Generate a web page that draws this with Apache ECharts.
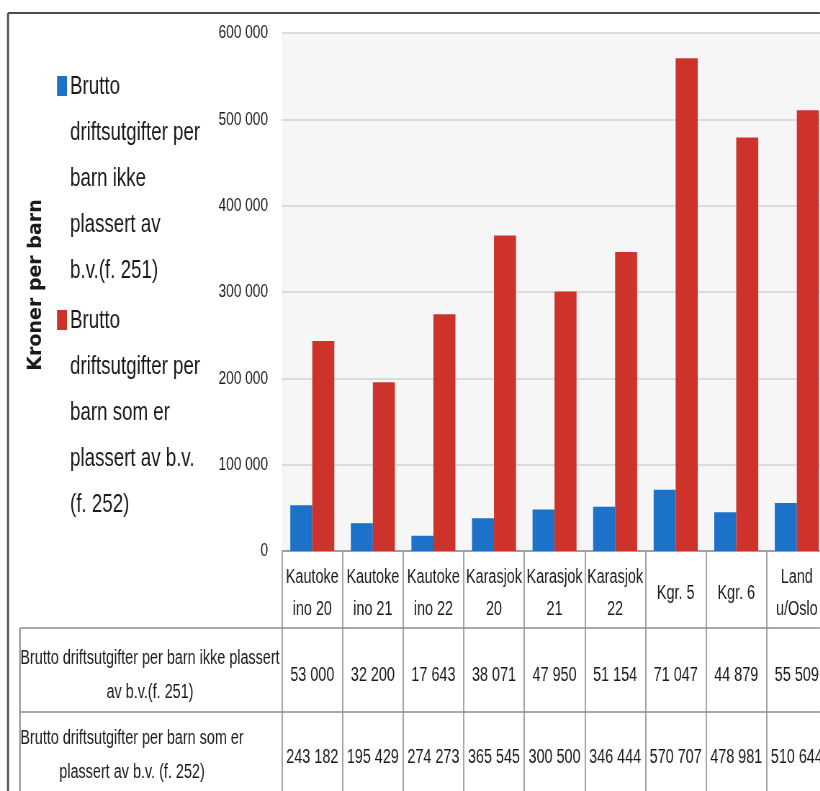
<!DOCTYPE html>
<html lang="no">
<head>
<meta charset="utf-8">
<title>Brutto driftsutgifter per barn</title>
<script src="https://cdn.jsdelivr.net/npm/echarts@6/dist/echarts.min.js"></script>
<style>
  html, body { margin: 0; padding: 0; background: #fff; overflow: hidden; }
  #wrap { width: 820px; height: 791px; overflow: hidden; }
  #chart { height: 791px; transform-origin: 0 0; }
</style>
</head>
<body>
<div id="wrap"><div id="chart"></div></div>
<script>
// kategorier (slik de er brutt i tabellen)
var categories = ['Kautoke\nino 20', 'Kautoke\nino 21', 'Kautoke\nino 22', 'Karasjok\n20', 'Karasjok\n21',
                  'Karasjok\n22', 'Kgr. 5', 'Kgr. 6', 'Land\nu/Oslo'];
// f. 251 og f. 252
var ikkePlassert = [53000, 32200, 17643, 38071, 47950, 51154, 71047, 44879, 55509];
var plassert = [243182, 195429, 274273, 365545, 300500, 346444, 570707, 478981, 510644];
var seriesNames = ['Brutto driftsutgifter per barn ikke plassert av b.v.(f. 251)',
                   'Brutto driftsutgifter per barn som er plassert av b.v. (f. 252)'];
var legendLines = [
    ['Brutto', 'driftsutgifter per', 'barn ikke', 'plassert av', 'b.v.(f. 251)'],
    ['Brutto', 'driftsutgifter per', 'barn som er', 'plassert av b.v.', '(f. 252)']
];
var rowHeaders = [
    ['Brutto driftsutgifter per barn ikke plassert', 'av b.v.(f. 251)'],
    ['Brutto driftsutgifter per barn som er', 'plassert av b.v. (f. 252)']
];
var yMin = 0, yMax = 600000, yStep = 100000;
var colors = ['#1b72c8', '#cd322b'];

// skannet figur er smal: tegner bredere og klemmer sammen horisontalt
var S = 0.72;
var W = 820 / S;
function X(v) { return v / S; }

var el = document.getElementById('chart');
el.style.width = W + 'px';
el.style.transform = 'scaleX(' + S + ')';

var sans = "'Liberation Sans', Arial, sans-serif";

// tall med mellomrom som tusenskille
function fmt(v) {
    return String(v).replace(/\B(?=(\d{3})+(?!\d))/g, ' ');
}

var chart = echarts.init(el);

// forklaring + tabellrammer
var graphics = [];
function line(x1, y1, x2, y2, color, w) {
    graphics.push({type: 'line', shape: {x1: X(x1), y1: y1, x2: X(x2), y2: y2},
        style: {stroke: color, lineWidth: w}, z: 10});
}
function text(x, y, str, font, align) {
    graphics.push({type: 'text', x: X(x), y: y, z: 10,
        style: {text: str, font: font, fill: '#1a1a1a', textAlign: align || 'left', textVerticalAlign: 'middle'}});
}

// ytre ramme
line(8, 13, 820, 13, '#4d4d4d', 2);
line(8, 13, 8, 791, '#4d4d4d', 2 / S);
// tabell-linjer
line(20, 628, 820, 628, '#8c8c8c', 1.5);
line(20, 712, 820, 712, '#8c8c8c', 1.5);
line(20, 628, 20, 791, '#8c8c8c', 1.5 / S);

// y-akse tittel
graphics.push({type: 'text', x: X(36), y: 285, rotation: Math.PI / 2, scaleY: 1 / S, z: 10,
    style: {text: 'Kroner per barn', font: 'bold 19px "DejaVu Sans", sans-serif', fill: '#1a1a1a',
        textAlign: 'center', textVerticalAlign: 'middle'}});

// forklaring
var legendTop = [87, 321];
legendLines.forEach(function (lines, i) {
    graphics.push({type: 'rect', shape: {x: X(57), y: legendTop[i] - 11, width: X(10), height: 20},
        style: {fill: colors[i]}, z: 10});
    lines.forEach(function (s, j) {
        text(70, legendTop[i] + j * 46, s, '26px ' + sans);
    });
});

// radoverskrifter
var rowCenter = [[150, 658], [132, 738]];
rowHeaders.forEach(function (lines, i) {
    lines.forEach(function (s, j) {
        text(rowCenter[i][0], rowCenter[i][1] + j * 34, s, '20px ' + sans, 'center');
    });
});

function tableAxis(data, offset, margin) {
    return {
        type: 'category', gridIndex: 0, position: 'bottom', offset: offset,
        data: data.map(fmt),
        axisLine: {show: false}, axisTick: {show: false},
        axisLabel: {interval: 0, margin: margin, verticalAlign: 'middle',
            color: '#1a1a1a', fontSize: 20, fontFamily: sans}
    };
}

chart.setOption({
    animation: false,
    backgroundColor: '#ffffff',
    grid: {
        left: X(282), right: W - X(827), top: 33, bottom: 240,
        show: true, backgroundColor: '#f6f6f6', borderWidth: 0,
        containLabel: false, outerBoundsMode: 'none'
    },
    xAxis: [
        {
            type: 'category', data: categories, position: 'bottom',
            axisLine: {lineStyle: {color: '#8c8c8c', width: 1.5}},
            axisTick: {show: true, interval: 0, length: 240, lineStyle: {color: '#a6a6a6', width: 1.5 / S}},
            axisLabel: {interval: 0, margin: 42, verticalAlign: 'middle', lineHeight: 32,
                color: '#1a1a1a', fontSize: 20, fontFamily: sans}
        },
        tableAxis(ikkePlassert, 77, 47),
        tableAxis(plassert, 161, 45)
    ],
    yAxis: {
        type: 'value', min: yMin, max: yMax, interval: yStep,
        axisLine: {show: false}, axisTick: {show: false},
        splitLine: {lineStyle: {color: '#d2d2d2', width: 1.5}},
        axisLabel: {formatter: fmt, margin: X(14), color: '#1a1a1a', fontSize: 19, fontFamily: sans}
    },
    series: [
        {name: seriesNames[0], type: 'bar', data: ikkePlassert, barWidth: X(22), barGap: '0%',
            itemStyle: {color: colors[0]}},
        {name: seriesNames[1], type: 'bar', data: plassert, barWidth: X(22), barGap: '0%',
            itemStyle: {color: colors[1]}}
    ],
    graphic: graphics
});
</script>
</body>
</html>
